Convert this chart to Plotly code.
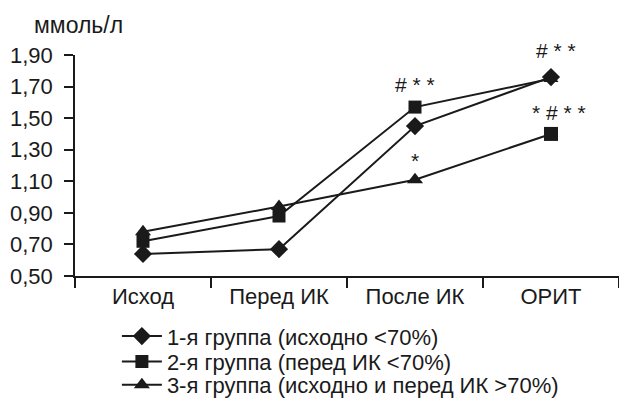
import plotly.graph_objects as go

# Time points
stages = ["Исход", "Перед ИК", "После ИК", "ОРИТ"]

# Lactate, mmol/l, per group
group1 = [0.64, 0.67, 1.45, 1.76]
group2 = [0.72, 0.88, 1.57, 1.75]
group3 = [0.78, 0.94, 1.11, 1.40]

group1_symbols = ["diamond", "diamond", "diamond", "diamond"]
group2_symbols = ["square", "square", "square", "triangle-up"]
group3_symbols = ["triangle-up", "triangle-up", "triangle-up", "square"]

names = [
    "1-я группа (исходно <70%)",
    "2-я группа (перед ИК <70%)",
    "3-я группа (исходно и перед ИК >70%)",
]

# Y axis ticks
y_ticks = [0.50, 0.70, 0.90, 1.10, 1.30, 1.50, 1.70, 1.90]
y_tick_text = ["0,50", "0,70", "0,90", "1,10", "1,30", "1,50", "1,70", "1,90"]

# Significance marks placed above a point: (stage, point value, text, dx, dy)
marks = [
    ("После ИК", group2[2], "# * *", 0, 23),
    ("После ИК", group3[2], "*", 0, 19),
    ("ОРИТ", group1[3], "# * *", 5, 27),
    ("ОРИТ", group3[3], "* # * *", 8, 21),
]

FONT = "Liberation Sans, Arial, Helvetica, sans-serif"
INK = "#1a1a1a"

fig = go.Figure()

series = [
    (group1, group1_symbols, 14, "legend"),
    (group2, group2_symbols, 13, "legend2"),
    (group3, group3_symbols, 14, "legend3"),
]
for (vals, syms, size, leg), name in zip(series, names):
    fig.add_trace(go.Scatter(
        x=stages, y=vals, name=name, mode="lines+markers",
        line=dict(color=INK, width=2),
        marker=dict(symbol=syms, size=size, color=INK,
                    line=dict(width=0)),
        legend=leg, showlegend=True,
    ))

for stage, y, txt, dx, dy in marks:
    fig.add_annotation(x=stage, y=y, text=txt, showarrow=False,
                       xref="x", yref="y", yanchor="middle",
                       xshift=dx, yshift=dy,
                       font=dict(family=FONT, size=21, color=INK))

fig.add_annotation(x=-0.079, y=1.135, xref="paper", yref="paper",
                   xanchor="left", yanchor="middle", showarrow=False,
                   text="ммоль/л",
                   font=dict(family=FONT, size=23, color=INK))

legend_common = dict(font=dict(family=FONT, size=22, color=INK),
                     bgcolor="rgba(0,0,0,0)", itemwidth=40,
                     xanchor="left", yanchor="middle", x=0.077,
                     visible=True)
fig.update_layout(
    width=619, height=406,
    margin=dict(l=75, r=0, t=55, b=128.5),
    paper_bgcolor="white", plot_bgcolor="white",
    font=dict(family=FONT, size=21, color=INK),
    showlegend=True,
    legend=dict(legend_common, y=-0.267),
    legend2=dict(legend_common, y=-0.3815),
    legend3=dict(legend_common, y=-0.496),
    xaxis=dict(
        type="category", range=[-0.5, 3.5],
        showline=True, linecolor=INK, linewidth=1.5,
        ticks="outside", tickson="boundaries", ticklen=10,
        tickcolor=INK, tickwidth=1.5,
        showgrid=False, zeroline=False,
        tickfont=dict(family=FONT, size=22, color=INK),
    ),
    yaxis=dict(
        range=[0.5, 1.9], tickvals=y_ticks, ticktext=y_tick_text,
        showline=True, linecolor=INK, linewidth=1.5,
        ticks="outside", ticklen=9, tickcolor=INK, tickwidth=1.5,
        ticklabelstandoff=7,
        showgrid=False, zeroline=False,
        tickfont=dict(family=FONT, size=22, color=INK),
    ),
)

fig.write_html("out.html")
